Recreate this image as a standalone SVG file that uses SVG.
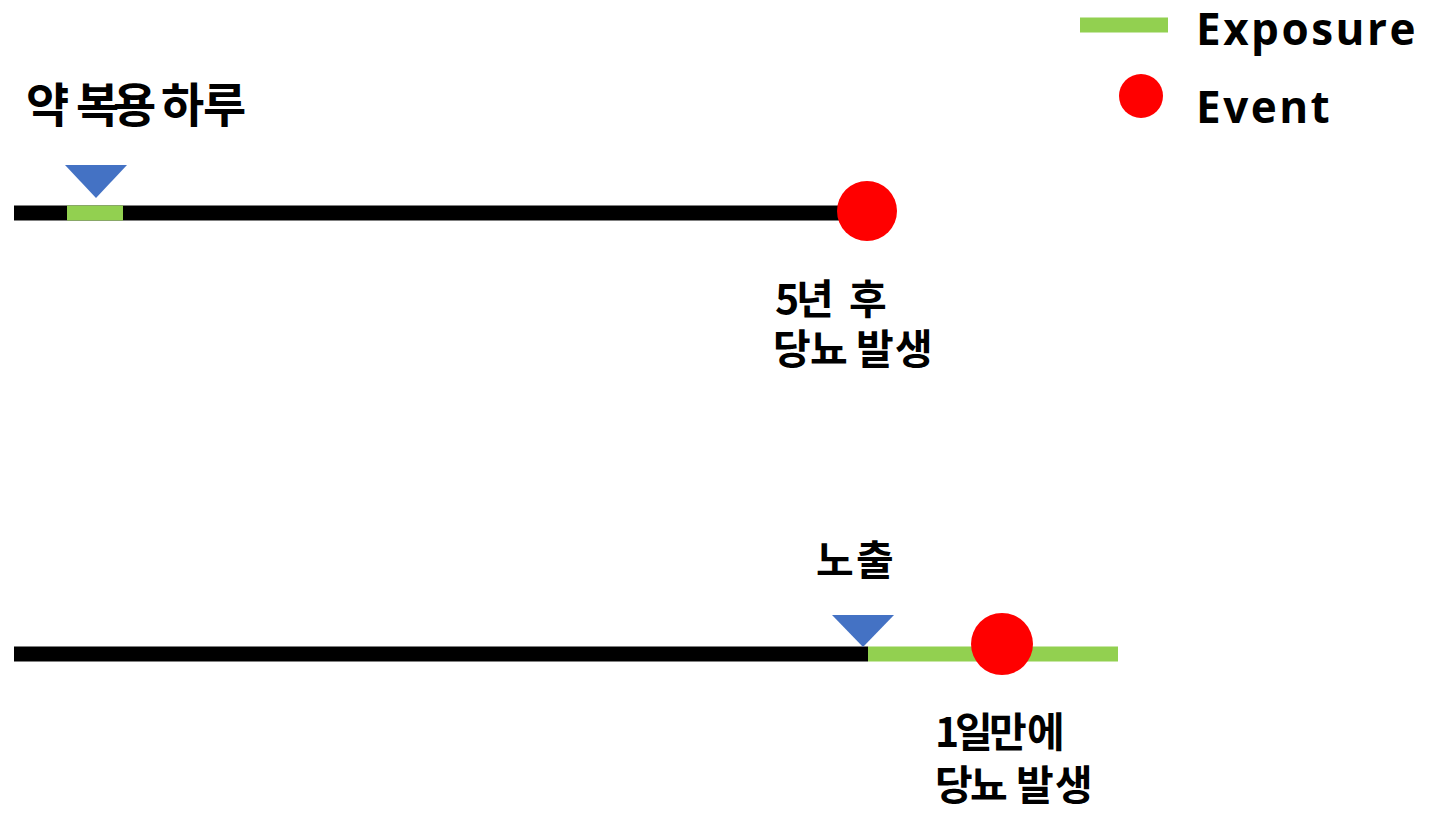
<svg xmlns="http://www.w3.org/2000/svg" width="1446" height="818" viewBox="0 0 1446 818">
<style>
.t{font-family:"Noto Sans CJK KR","Malgun Gothic","Noto Sans",sans-serif;font-weight:700;fill:#000}
.l{font-family:"Open Sans","Noto Sans",sans-serif;font-weight:700;fill:#000;font-size:44px;letter-spacing:2.5px}
.blk{stroke:#000;stroke-width:15;fill:none}
.grn{stroke:#92D050;stroke-width:15;fill:none}
.tri{fill:#4472C4}
.ev{fill:#FF0000}
</style>
<rect width="1446" height="818" fill="#fff"/>
<g id="legend">
<line class="grn" x1="1080" y1="25" x2="1168" y2="25"/>
<text class="l" x="1196" y="45">Exposure</text>
<circle class="ev" cx="1141" cy="96" r="22"/>
<text class="l" x="1196" y="123">Event</text>
</g>
<g id="connectors">
<line class="blk" x1="14" y1="213" x2="845" y2="213"/>
<line class="grn" x1="67" y1="213" x2="123" y2="213"/>
<line class="blk" x1="14" y1="654" x2="868" y2="654"/>
<line class="grn" x1="868" y1="654" x2="1118" y2="654"/>
</g>
<g id="timeline1">
<polygon class="tri" points="65,165 127,165 96,198"/>
<text class="t" font-size="47" x="26 68 76 113 155 161 203" y="122">약 복용 하루</text>
<circle class="ev" cx="867" cy="211" r="30"/>
<text class="t" font-size="41"><tspan x="775 796 838 849" y="314">5년 후</tspan><tspan x="773 810 848 856 895" y="364">당뇨 발생</tspan></text>
</g>
<g id="timeline2">
<polygon class="tri" points="832,615 894,615 863,647"/>
<text class="t" font-size="41" x="816 856" y="575">노출</text>
<circle class="ev" cx="1002" cy="644" r="31"/>
<text class="t" font-size="41"><tspan x="935 955 989 1027" y="747">1일만에</tspan><tspan x="935 970 1008 1016 1055" y="800">당뇨 발생</tspan></text>
</g>
</svg>
